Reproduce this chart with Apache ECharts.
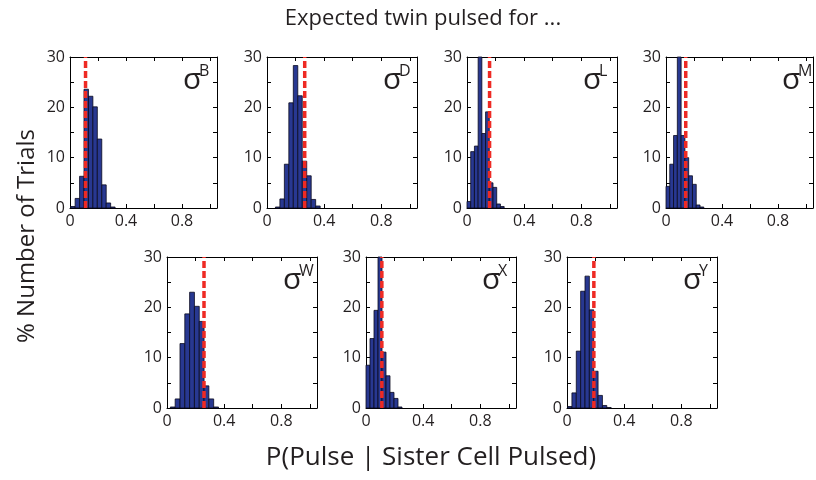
<!DOCTYPE html>
<html>
<head>
<meta charset="utf-8">
<script src="https://cdn.jsdelivr.net/npm/echarts@6/dist/echarts.min.js"></script>
<style>
  html, body { margin: 0; padding: 0; background: #fff; }
  #chart { width: 816px; height: 480px; }
</style>
</head>
<body>
<div id="chart"></div>
<script>
// Twin labels, one per histogram panel
const twinLabels = ['B', 'D', 'L', 'M', 'W', 'X', 'Y'];

// Histogram bins: first bin edge and bin width for each panel
const binStart = [0.005, 0.059, 0.0, 0.0, 0.0235, 0.0, 0.004];
const binWidth = [0.0317, 0.0313, 0.026, 0.027, 0.0337, 0.028, 0.0305];

// % of trials in each bin
const countsB = [0.3, 1.9, 6.3, 23.6, 22.2, 20.1, 13.7, 4.6, 1.0, 0.2];
const countsD = [0.2, 1.8, 8.7, 20.9, 28.3, 22.3, 9.3, 6.4, 1.7, 0.4];
const countsL = [1.3, 11.2, 12.3, 32.0, 14.8, 19.1, 5.0, 4.1, 0.8, 0.3];
const countsM = [4.3, 8.7, 14.4, 32.0, 14.4, 10.0, 6.4, 4.7, 0.6, 0.2];
const countsW = [0.2, 1.8, 12.8, 18.7, 23.0, 20.2, 17.2, 4.4, 1.8, 0.2];
const countsX = [8.5, 13.8, 19.4, 32.0, 11.1, 6.4, 3.1, 1.9, 0.2];
const countsY = [0.3, 3.0, 11.3, 23.2, 26.2, 19.5, 7.3, 2.5, 0.5, 0.1];
const allCounts = [countsB, countsD, countsL, countsM, countsW, countsX, countsY];

// Expected P(pulse | sister pulsed) marked by the dashed line
const expectedP = [0.111, 0.264, 0.158, 0.141, 0.259, 0.111, 0.188];

// Axis ranges and tick labels
const xMin = 0, xMax = 1.05, xStep = 0.2;
const xTickLabels = ['0', '0.4', '0.8'];
const yMin = 0, yMax = 30, yStep = 5;
const yTickLabels = ['0', '10', '20', '30'];

// Panel layout (pixels)
const panelLeft = [70, 267, 467, 666, 167, 366, 567];
const panelWidth = [147, 150, 150, 150, 150, 150, 150];
const panelTop = [57, 57, 57, 57, 257, 257, 257];
const panelH = 151;

const FONT = '"Open Sans", "Liberation Sans", sans-serif';
const INK = '#231f20';
const BAR_FILL = '#283891';
const RED = '#ee2a24';

const grids = [], xAxes = [], yAxes = [], series = [], graphics = [];

function fmtX(v) {
  const s = String(Math.round(v * 100) / 100);
  return xTickLabels.indexOf(s) >= 0 ? s : '';
}
function fmtY(v) {
  const s = String(Math.round(v));
  return yTickLabels.indexOf(s) >= 0 ? s : '';
}

twinLabels.forEach((lab, i) => {
  grids.push({ left: panelLeft[i], top: panelTop[i], width: panelWidth[i], height: panelH, show: false });
  const baseX = {
    type: 'value', gridIndex: i, min: xMin, max: xMax, interval: xStep,
    axisLine: { show: true, onZero: false, lineStyle: { color: '#000', width: 1 } },
    axisTick: { show: true, inside: true, length: 4, lineStyle: { color: '#000', width: 1 } },
    splitLine: { show: false }
  };
  xAxes.push(Object.assign({}, baseX, {
    position: 'bottom',
    axisLabel: { show: true, fontFamily: FONT, fontSize: 16, color: INK, margin: 5, formatter: fmtX }
  }));
  xAxes.push(Object.assign({}, baseX, { position: 'top', axisLabel: { show: false } }));
  const baseY = {
    type: 'value', gridIndex: i, min: yMin, max: yMax, interval: yStep,
    axisLine: { show: true, onZero: false, lineStyle: { color: '#000', width: 1 } },
    axisTick: { show: true, inside: true, length: 4, lineStyle: { color: '#000', width: 1 } },
    splitLine: { show: false }
  };
  yAxes.push(Object.assign({}, baseY, {
    position: 'left',
    axisLabel: { show: true, fontFamily: FONT, fontSize: 16, color: INK, margin: 5, formatter: fmtY }
  }));
  yAxes.push(Object.assign({}, baseY, { position: 'right', axisLabel: { show: false } }));

  const w = binWidth[i], s0 = binStart[i];
  const binData = allCounts[i].map((c, k) => [s0 + k * w, s0 + (k + 1) * w, c]);

  series.push({
    type: 'custom',
    xAxisIndex: 2 * i, yAxisIndex: 2 * i,
    data: binData,
    encode: { x: [0, 1], y: 2 },
    renderItem: function (params, api) {
      const p0 = api.coord([api.value(0), 0]);
      const p1 = api.coord([api.value(1), api.value(2)]);
      const topY = Math.max(p1[1], params.coordSys.y);
      return {
        type: 'rect',
        shape: { x: p0[0], y: topY, width: p1[0] - p0[0], height: p0[1] - topY },
        style: { fill: BAR_FILL, stroke: '#0a0a1e', lineWidth: 0.8 }
      };
    },
    z: 2
  });

  series.push({
    type: 'line',
    xAxisIndex: 2 * i, yAxisIndex: 2 * i,
    data: [[expectedP[i], yMin], [expectedP[i], yMax]],
    symbol: 'none',
    lineStyle: { color: RED, width: 3.5, type: [7, 3] },
    z: 3,
    silent: true
  });

  // σ with superscript twin label in the panel's upper right
  const right = panelLeft[i] + panelWidth[i];
  graphics.push({
    type: 'text', x: right - 34, y: panelTop[i] + 23, z: 10,
    style: { text: 'σ', font: '30px ' + FONT, fill: INK, textAlign: 'left', textVerticalAlign: 'middle' }
  });
  graphics.push({
    type: 'text', x: right - 18, y: panelTop[i] + 14, z: 10,
    style: { text: lab, font: '16px ' + FONT, fill: INK, textAlign: 'left', textVerticalAlign: 'middle' }
  });
});

graphics.push({
  type: 'text', x: 423, y: 19,
  style: { text: 'Expected twin pulsed for ...', font: '22px ' + FONT, fill: INK, textAlign: 'center', textVerticalAlign: 'middle' }
});
graphics.push({
  type: 'text', x: 431, y: 458,
  style: { text: 'P(Pulse | Sister Cell Pulsed)', font: '26px ' + FONT, fill: INK, textAlign: 'center', textVerticalAlign: 'middle' }
});
graphics.push({
  type: 'text', x: 27, y: 236, rotation: Math.PI / 2,
  style: { text: '% Number of Trials', font: '24px ' + FONT, fill: INK, textAlign: 'center', textVerticalAlign: 'middle' }
});

const chart = echarts.init(document.getElementById('chart'), null, { renderer: 'canvas' });
chart.setOption({
  animation: false,
  backgroundColor: '#fff',
  grid: grids,
  xAxis: xAxes,
  yAxis: yAxes,
  series: series,
  graphic: graphics
});
</script>
</body>
</html>
